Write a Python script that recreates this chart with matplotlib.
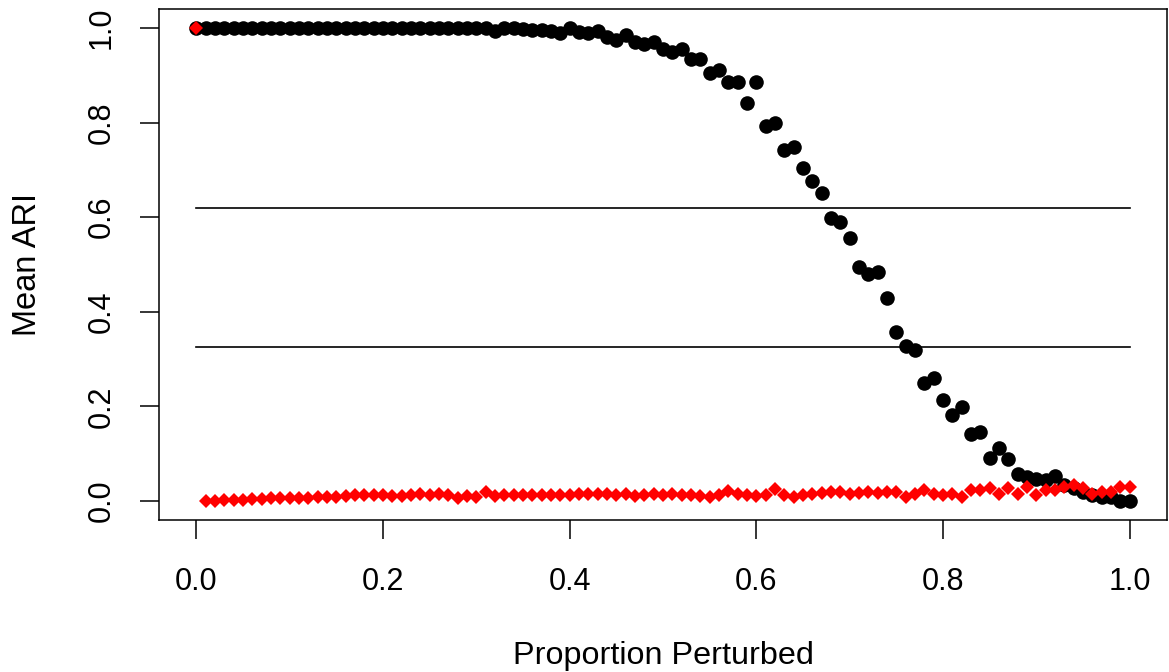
import numpy as np
import matplotlib
matplotlib.use('Agg')
import matplotlib.pyplot as plt

# proportion of labels perturbed (0.00, 0.01, ..., 1.00)
prop = np.arange(101) / 100

# mean ARI of the perturbed clustering (black circles)
ari_perturbed = [
    1.0, 1.0, 1.0, 1.0, 1.0, 1.0, 1.0, 1.0, 1.0, 1.0,
    1.0, 1.0, 1.0, 1.0, 1.0, 1.0, 1.0, 1.0, 1.0, 1.0,
    1.0, 1.0, 1.0, 1.0, 1.0, 1.0, 1.0, 1.0, 1.0, 1.0,
    1.0, 1.0, 0.993, 1.0, 1.0, 0.998, 0.996, 0.995, 0.993, 0.99,
    1.0, 0.992, 0.99, 0.993, 0.98, 0.975, 0.985, 0.97, 0.965, 0.97,
    0.955, 0.95, 0.955, 0.935, 0.935, 0.905, 0.911, 0.886, 0.886, 0.841,
    0.886, 0.793, 0.799, 0.742, 0.748, 0.704, 0.676, 0.651, 0.598, 0.59,
    0.555, 0.495, 0.48, 0.485, 0.43, 0.357, 0.328, 0.319, 0.25, 0.26,
    0.213, 0.182, 0.198, 0.142, 0.146, 0.091, 0.112, 0.088, 0.058, 0.05,
    0.046, 0.044, 0.053, 0.034, 0.028, 0.02, 0.012, 0.009, 0.008, 0.0,
    0.0,
]

# mean ARI of the random baseline (red diamonds)
ari_random = [
    1.0, 0.001, 0.001, 0.003, 0.003, 0.003, 0.005, 0.005, 0.006, 0.006,
    0.007, 0.007, 0.007, 0.008, 0.008, 0.009, 0.010, 0.013, 0.013, 0.013,
    0.012, 0.011, 0.010, 0.012, 0.014, 0.013, 0.014, 0.013, 0.006, 0.011,
    0.008, 0.019, 0.010, 0.013, 0.013, 0.013, 0.013, 0.013, 0.013, 0.013,
    0.012, 0.014, 0.016, 0.014, 0.015, 0.013, 0.014, 0.010, 0.012, 0.014,
    0.012, 0.014, 0.012, 0.013, 0.010, 0.008, 0.013, 0.022, 0.014, 0.012,
    0.010, 0.013, 0.025, 0.012, 0.008, 0.013, 0.016, 0.018, 0.020, 0.020,
    0.015, 0.018, 0.020, 0.018, 0.020, 0.020, 0.009, 0.016, 0.023, 0.016,
    0.012, 0.016, 0.009, 0.023, 0.023, 0.027, 0.016, 0.027, 0.016, 0.030,
    0.013, 0.023, 0.023, 0.030, 0.034, 0.027, 0.016, 0.020, 0.020, 0.030,
    0.030,
]

# reference levels drawn as horizontal lines
ref_levels = [0.62, 0.325]

xticks = [0.0, 0.2, 0.4, 0.6, 0.8, 1.0]
yticks = [0.0, 0.2, 0.4, 0.6, 0.8, 1.0]

plt.rcParams['font.family'] = ['Liberation Sans', 'DejaVu Sans']

fig = plt.figure(figsize=(11.69, 6.72), dpi=100)
ax = fig.add_axes([159 / 1169, 152 / 672, 1008 / 1169, 511 / 672])

ax.plot(prop, ari_perturbed, linestyle='', marker='o', markersize=10.5,
        color='black', markeredgewidth=0)
ax.plot(prop, ari_random, linestyle='', marker='D', markersize=7.3,
        color='red', markeredgewidth=0)
for lvl in ref_levels:
    ax.plot([0, 1], [lvl, lvl], color='black', linewidth=1.2)

ax.set_xlim(-0.04, 1.04)
ax.set_ylim(-0.04, 1.04)
ax.set_xticks(xticks)
ax.set_xticklabels([f'{t:.1f}' for t in xticks])
ax.set_yticks(yticks)
ax.set_yticklabels([f'{t:.1f}' for t in yticks], rotation=90, va='center')

ax.tick_params(axis='both', direction='out', length=13.7, width=1.1,
               labelsize=22, color='black')
ax.tick_params(axis='x', pad=20)
ax.tick_params(axis='y', pad=17)
for sp in ax.spines.values():
    sp.set_linewidth(1.1)

ax.set_xlabel('Proportion Perturbed', fontsize=23.3, labelpad=32)
ax.set_ylabel('Mean ARI', fontsize=23.5, labelpad=31)

fig.savefig('out.png', dpi=100)
